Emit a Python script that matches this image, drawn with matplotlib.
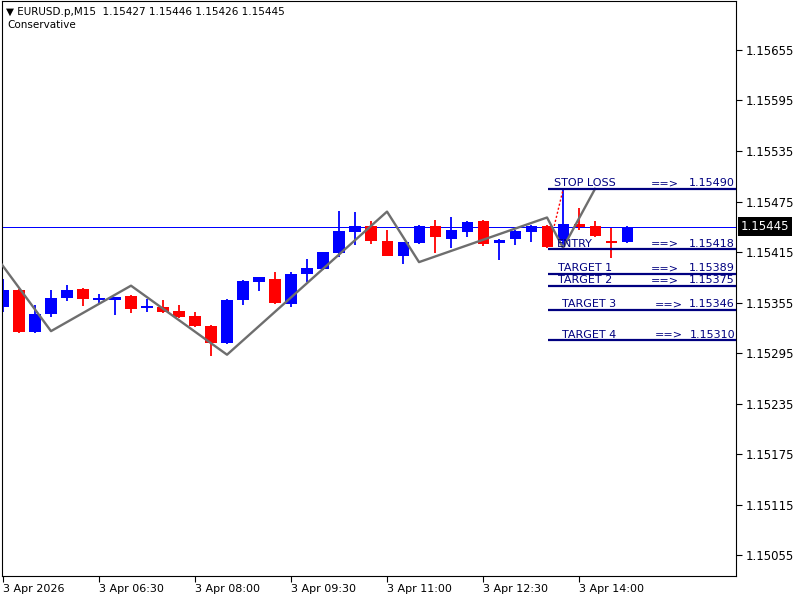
"""EURUSD M15 candlestick chart with zigzag and trade levels (MT4 style)."""

import matplotlib
matplotlib.use("Agg")
import matplotlib.pyplot as plt
import matplotlib.transforms as mtransforms
import numpy as np

# --- data -----------------------------------------------------------------
opens = [1.15350, 1.15370, 1.15320, 1.15341, 1.15360, 1.15371, 1.15358, 1.15358,
         1.15363, 1.15349, 1.15350, 1.15345, 1.15339, 1.15327, 1.15307, 1.15358,
         1.15379, 1.15383, 1.15353, 1.15389, 1.15395, 1.15414, 1.15439, 1.15446,
         1.15428, 1.15410, 1.15426, 1.15446, 1.15431, 1.15439, 1.15452, 1.15426,
         1.15431, 1.15439, 1.15446, 1.15428, 1.15448, 1.15446, 1.15428, 1.15427]
highs = [1.15383, 1.15371, 1.15352, 1.15370, 1.15376, 1.15372, 1.15365, 1.15362,
         1.15364, 1.15359, 1.15358, 1.15352, 1.15344, 1.15328, 1.15359, 1.15382,
         1.15385, 1.15391, 1.15391, 1.15407, 1.15415, 1.15464, 1.15463, 1.15452,
         1.15441, 1.15427, 1.15447, 1.15453, 1.15457, 1.15452, 1.15453, 1.15430,
         1.15441, 1.15447, 1.15447, 1.15490, 1.15467, 1.15452, 1.15444, 1.15446]
lows = [1.15344, 1.15319, 1.15319, 1.15338, 1.15357, 1.15351, 1.15354, 1.15340,
        1.15343, 1.15344, 1.15343, 1.15337, 1.15326, 1.15291, 1.15306, 1.15352,
        1.15369, 1.15353, 1.15350, 1.15379, 1.15394, 1.15409, 1.15423, 1.15424,
        1.15410, 1.15401, 1.15425, 1.15414, 1.15420, 1.15433, 1.15422, 1.15406,
        1.15423, 1.15427, 1.15420, 1.15420, 1.15441, 1.15433, 1.15408, 1.15426]
closes = [1.15370, 1.15320, 1.15341, 1.15360, 1.15370, 1.15359, 1.15360, 1.15361,
          1.15347, 1.15351, 1.15344, 1.15338, 1.15327, 1.15307, 1.15358, 1.15381,
          1.15385, 1.15354, 1.15389, 1.15396, 1.15415, 1.15440, 1.15446, 1.15428,
          1.15410, 1.15427, 1.15446, 1.15433, 1.15441, 1.15451, 1.15425, 1.15429,
          1.15440, 1.15446, 1.15421, 1.15448, 1.15445, 1.15434, 1.15426, 1.15445]

time_labels = ["3 Apr 2026", "3 Apr 06:30", "3 Apr 08:00", "3 Apr 09:30",
               "3 Apr 11:00", "3 Apr 12:30", "3 Apr 14:00"]
bars_per_label = 6

zigzag_bar = [-1, 3, 8, 14, 24, 26, 34, 35, 37]
zigzag_price = [1.15424, 1.15321, 1.15375, 1.15293, 1.15463, 1.15403,
                1.15456, 1.15420, 1.15490]

dotted_bar = [34.45, 35]
dotted_price = [1.15446, 1.15489]

level_names = ["STOP LOSS", "ENTRY", "TARGET 1", "TARGET 2", "TARGET 3", "TARGET 4"]
level_prices = [1.15490, 1.15418, 1.15389, 1.15375, 1.15346, 1.15310]
level_start_bar = 34.06

current_price = 1.15445
header = "\u25bc EURUSD.p,M15  1.15427 1.15446 1.15426 1.15445"
subheader = "Conservative"

y_ticks = np.round(np.arange(1.15055, 1.15656, 0.0006), 5)

# --- figure -----------------------------------------------------------------
BLUE = "#0000ff"
RED = "#ff0000"
NAVY = "#000080"

plt.rcParams["font.family"] = "DejaVu Sans"

fig = plt.figure(figsize=(8, 6), dpi=100)
ax = fig.add_axes([2 / 800, 24 / 600, 734 / 800, 575 / 600])

x = np.arange(len(opens))
o = np.array(opens)
c = np.array(closes)
up = c >= o
colors = np.where(up, BLUE, RED)

ax.axhline(current_price, color=BLUE, lw=0.72, antialiased=False, zorder=1)

ax.vlines(x, lows, highs, colors=colors, lw=1.3, zorder=2)
body_h = np.maximum(np.abs(c - o), 0.000015)
ax.bar(x, body_h, bottom=np.minimum(o, c), width=0.69, color=colors,
       linewidth=0, zorder=2)

ax.plot(zigzag_bar, zigzag_price, color="#6e6e6e", lw=1.7, zorder=3)
ax.plot(dotted_bar, dotted_price, color=RED, ls=(0, (1.5, 1.5)), lw=1.0, zorder=3)

# trade levels
name_x = [34.44, 34.63, 34.69, 34.69, 34.94, 34.94]
arrow_x = [40.5, 40.5, 40.5, 40.5, 40.75, 40.75]
x_right = 45.81
for name, price, nx, axx in zip(level_names, level_prices, name_x, arrow_x):
    ax.hlines(price, level_start_bar, x_right, color=NAVY, lw=1.6, zorder=4)
    for txt, tx, ha in ((name, nx, "left"), ("==>", axx, "left"),
                        (f"{price:.5f}", 45.75, "right")):
        ax.annotate(txt, (tx, price), xytext=(0, 0.5), textcoords="offset points",
                    ha=ha, va="bottom", fontsize=8, color=NAVY, zorder=5)

ax.set_xlim(-0.0625, x_right)
ax.set_ylim(1.150301, 1.157132)

ax.yaxis.tick_right()
ax.set_yticks(y_ticks)
ax.set_yticklabels([f"{v:.5f}" for v in y_ticks])
ax.tick_params(axis="y", direction="out", length=4, width=0.8, pad=3,
               labelsize=8.5, colors="black")

ax.set_xticks(np.arange(len(time_labels)) * bars_per_label)
ax.set_xticklabels(time_labels, ha="left")
ax.tick_params(axis="x", direction="out", length=4, width=0.8, pad=1.5,
               labelsize=8)

for sp in ax.spines.values():
    sp.set_linewidth(0.8)
    sp.set_color("black")

# current price tag on the axis
trans = mtransforms.blended_transform_factory(ax.transAxes, ax.transData)
ax.text(1.0 + 5 / 734, current_price, f"{current_price:.5f}", transform=trans,
        ha="left", va="center", fontsize=8.5, color="white", zorder=6,
        bbox=dict(facecolor="black", edgecolor="none", pad=2.0), clip_on=False)

fig.text(6 / 800, 1 - 12 / 600, header, ha="left", va="center", fontsize=7.5)
fig.text(7 / 800, 1 - 25 / 600, subheader, ha="left", va="center", fontsize=7.5)

fig.savefig("out.png", dpi=100)
